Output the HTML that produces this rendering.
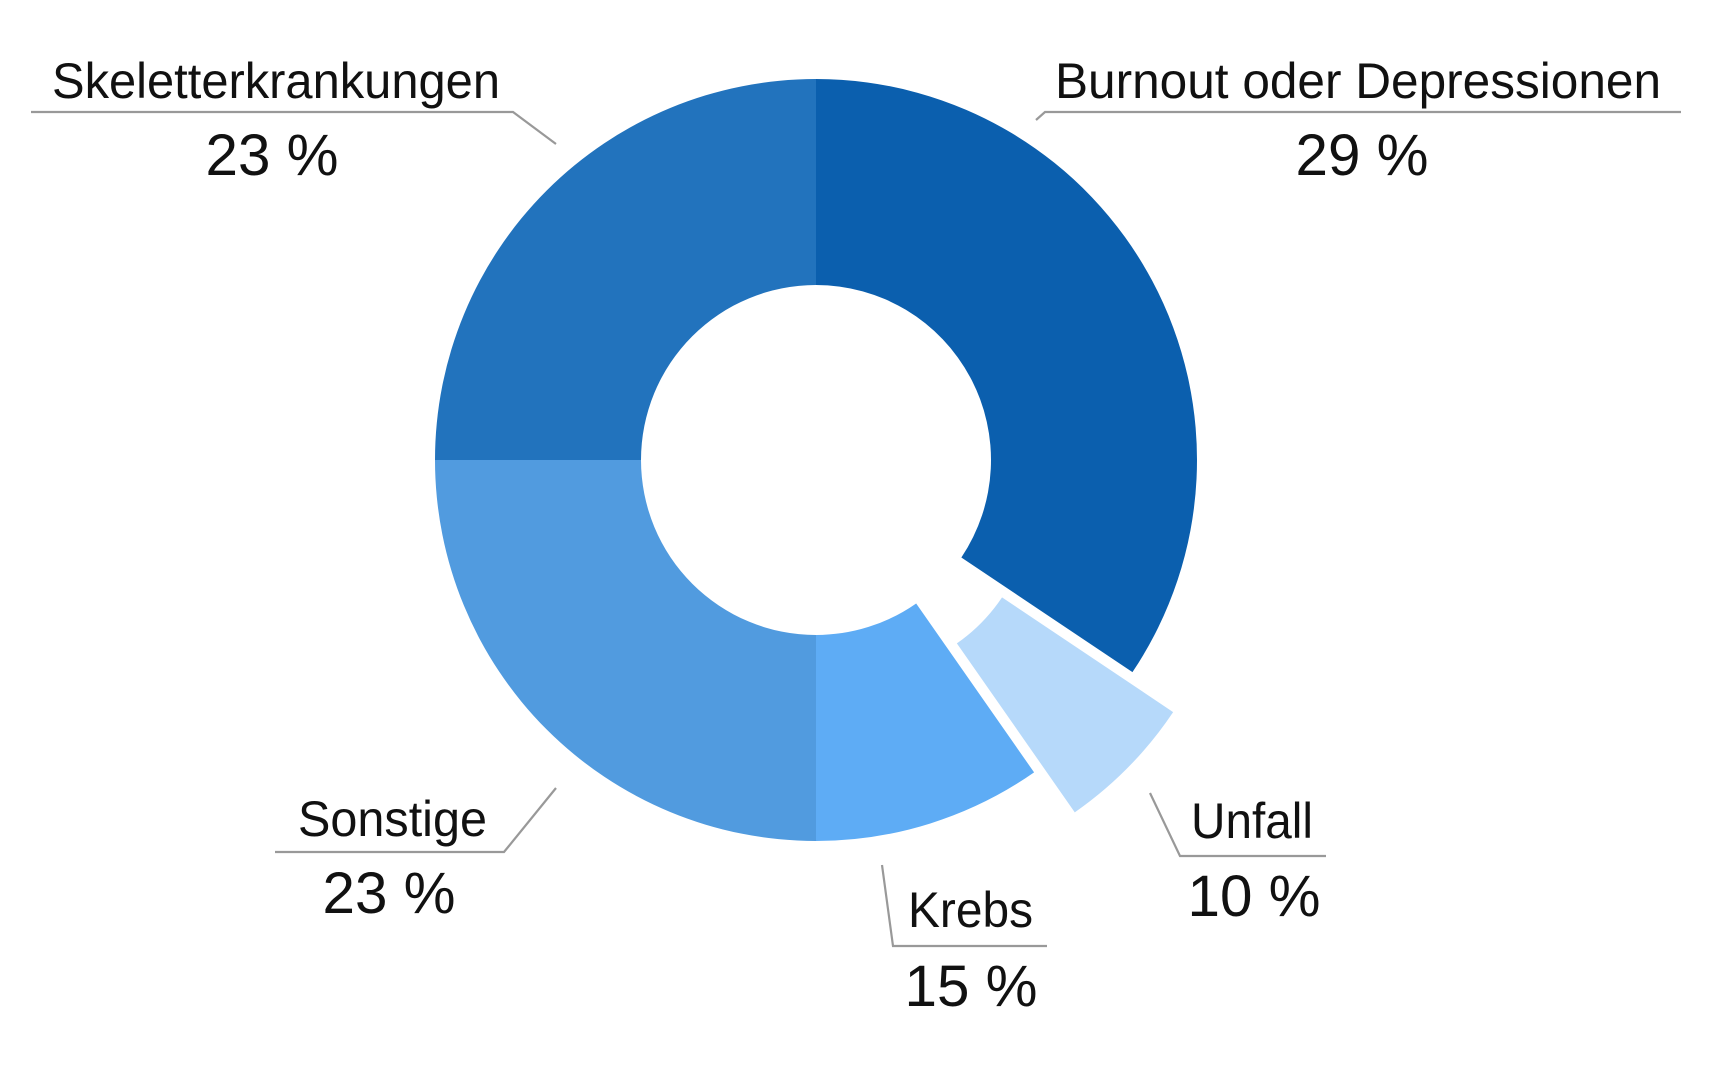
<!DOCTYPE html>
<html><head><meta charset="utf-8"><style>
html,body{margin:0;padding:0;background:#fff;width:1710px;height:1066px;overflow:hidden}
svg{display:block}
text{font-family:"Liberation Sans",sans-serif;fill:#111}
</style></head><body>
<svg id="chart" width="1710" height="1066" viewBox="0 0 1710 1066"></svg>
<script>
const categories = ["Burnout oder Depressionen","Unfall","Krebs","Sonstige","Skeletterkrankungen"];
const sliceValues = [34.4, 5.9, 9.7, 25, 25];
const printedValues = ["29 %","10 %","15 %","23 %","23 %"];
const explodedFlags = [0, 1, 0, 0, 0];
const colors = ["#0b5fae","#b6d9fa","#5eacf5","#519bdf","#2273bd"];
// label layout (positions only)
const labelLayout = [
  {tx:1055,tw:606,ty:98,px:1362,pw:133,py:175,line:[[1036,120],[1045,112],[1681,112]]},
  {tx:1191,tw:122,ty:838,px:1254,pw:133,py:916,line:[[1150,793],[1180,856],[1326,856]]},
  {tx:908,tw:125,ty:927,px:971,pw:133,py:1006,line:[[882,865],[893,946],[1047,946]]},
  {tx:298,tw:189,ty:836,px:389,pw:133,py:913,line:[[275,852],[504,852],[556,788]]},
  {tx:52,tw:448,ty:98,px:272,pw:133,py:175,line:[[31,112],[513,112],[556,144]]}
];
const NS="http://www.w3.org/2000/svg";
const svg=document.getElementById('chart');
const cx=816, cy=460, R=381, r=175, explode=57;
const total=sliceValues.reduce((a,b)=>a+b,0);
function pt(a,rad,ox,oy){return [cx+ox+rad*Math.sin(a), cy+oy-rad*Math.cos(a)];}
let start=0;
sliceValues.forEach((v,i)=>{
  const sweep=v/total*Math.PI*2, end=start+sweep, mid=start+sweep/2;
  const ox=explodedFlags[i]?explode*Math.sin(mid):0, oy=explodedFlags[i]?-explode*Math.cos(mid):0;
  const large=sweep>Math.PI?1:0;
  const a=pt(start,R,ox,oy), b=pt(end,R,ox,oy), c=pt(end,r,ox,oy), d=pt(start,r,ox,oy);
  const p=document.createElementNS(NS,'path');
  p.setAttribute('d',`M${a[0]},${a[1]} A${R},${R} 0 ${large} 1 ${b[0]},${b[1]} L${c[0]},${c[1]} A${r},${r} 0 ${large} 0 ${d[0]},${d[1]} Z`);
  p.setAttribute('fill',colors[i]);
  
  
  svg.appendChild(p);
  start=end;
});
categories.forEach((c,i)=>{
  const L=labelLayout[i];
  const pl=document.createElementNS(NS,'polyline');
  pl.setAttribute('points',L.line.map(q=>q.join(',')).join(' '));
  pl.setAttribute('fill','none');pl.setAttribute('stroke','#999');pl.setAttribute('stroke-width','2.2');
  
  
  svg.appendChild(pl);
  const t=document.createElementNS(NS,'text');
  t.setAttribute('x',L.tx);t.setAttribute('y',L.ty);t.setAttribute('font-size','50');
  t.setAttribute('textLength',L.tw);t.setAttribute('lengthAdjust','spacingAndGlyphs');
  t.textContent=c;
  
  
  svg.appendChild(t);
  const pv=document.createElementNS(NS,'text');
  pv.setAttribute('x',L.px-L.pw/2);pv.setAttribute('y',L.py);pv.setAttribute('font-size','58');
  pv.setAttribute('textLength',L.pw);pv.setAttribute('lengthAdjust','spacingAndGlyphs');
  pv.textContent=printedValues[i];
  
  
  svg.appendChild(pv);
});
</script>
</body></html>
